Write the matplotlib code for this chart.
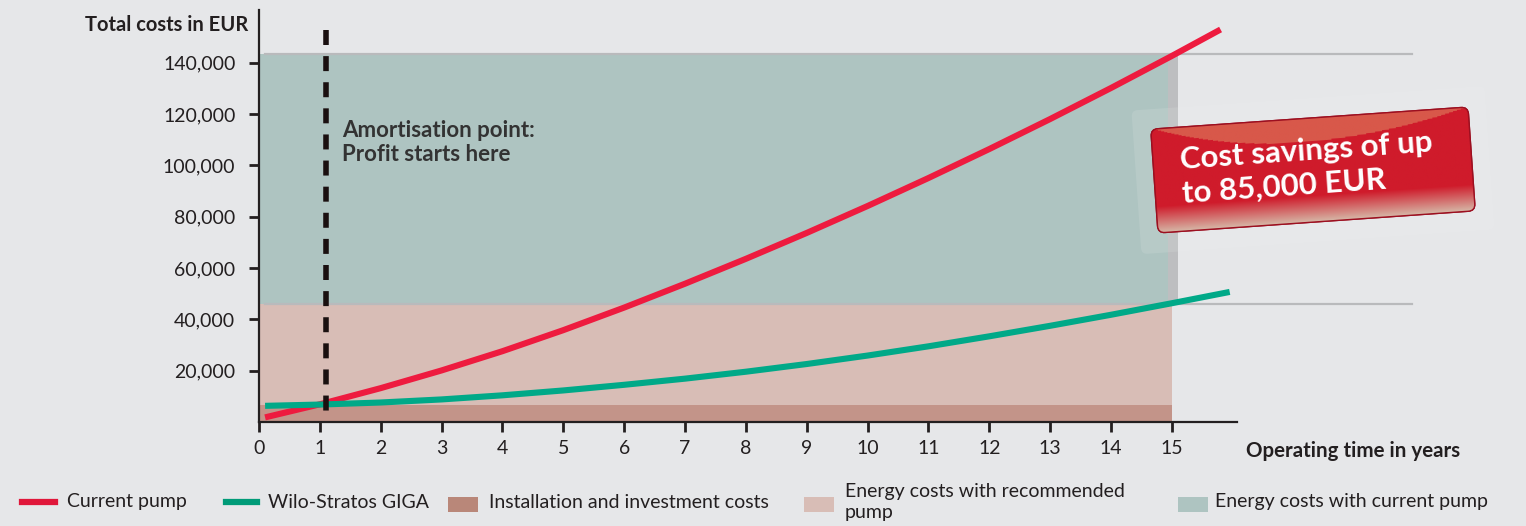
import numpy as np
import matplotlib
matplotlib.use('Agg')
import matplotlib.pyplot as plt
import matplotlib.transforms as mtransforms
from matplotlib.patches import FancyBboxPatch, Rectangle
from matplotlib.lines import Line2D

plt.rcParams['font.family'] = ['Lato', 'DejaVu Sans']

# data
years = [0.1, 1, 2, 3, 4, 5, 6, 7, 8, 9, 10, 11, 12, 13, 14, 15, 15.8]
current_pump = [1800, 6900, 13200, 20100, 27600, 35800, 44600, 53900, 63600,
                73700, 84200, 95100, 106400, 118100, 130200, 142700, 153000]
giga_years = [0.1, 1, 2, 3, 4, 5, 6, 7, 8, 9, 10, 11, 12, 13, 14, 15, 15.95]
wilo_giga = [6300, 6800, 7600, 8800, 10400, 12300, 14500, 16900, 19600,
             22600, 25900, 29500, 33400, 37500, 41800, 46300, 50700]

band_x = [0, 15]
invest_cost = 6500
energy_rec_top = 46000
energy_cur_top = 143500
amort_year = 1.1

x_ticks = list(range(0, 16))
y_ticks = [20000, 40000, 60000, 80000, 100000, 120000, 140000]

bg = '#e6e7e9'
dark = '#231f20'
red = '#ee1b3f'
green = '#00a988'
c_invest = '#c39489'
c_rec = '#d8bdb6'
c_cur = '#aec4c1'

fig = plt.figure(figsize=(15.26, 5.26), dpi=100, facecolor=bg)
W, H = 1526, 526
ax = fig.add_axes([259 / W, (H - 422) / H, 978 / W, 412 / H])
ax.set_facecolor(bg)
ax.set_xlim(0, 16.07)
ax.set_ylim(0, 160600)

# cost bands
ax.fill_between(band_x, energy_rec_top, energy_cur_top, color=c_cur, lw=0, zorder=1)
ax.fill_between(band_x, invest_cost, energy_rec_top, color=c_rec, lw=0, zorder=1)
ax.fill_between(band_x, 0, invest_cost, color=c_invest, lw=0, zorder=1)
ax.fill_between([14.93, 15.1], energy_rec_top, energy_cur_top, color='#bdbec0', lw=0, zorder=1.5)

# thin grey guide lines running out to the right
for yv in [energy_rec_top, energy_cur_top]:
    ax.plot([0.1, 18.94], [yv, yv], color='#b9babc', lw=1.6, clip_on=False, zorder=1.6)

ax.plot(years, current_pump, color=red, lw=4.4, solid_capstyle='butt',
        solid_joinstyle='round', zorder=3, clip_on=False)
ax.plot(giga_years, wilo_giga, color=green, lw=4.4, solid_capstyle='butt',
        solid_joinstyle='round', zorder=3, clip_on=False)

ax.plot([amort_year, amort_year], [152800, 1500], color='#1a1010', lw=4.0,
        linestyle=(0, (2.7, 2.0)), dash_capstyle='butt', zorder=4)
ax.text(1.36, 109000, 'Amortisation point:\nProfit starts here', fontsize=16,
        fontweight='bold', color='#333', va='center', ha='left', linespacing=1.22, zorder=5)

for s in ['top', 'right']:
    ax.spines[s].set_visible(False)
for s in ['left', 'bottom']:
    ax.spines[s].set_color(dark)
    ax.spines[s].set_linewidth(1.6)
    ax.spines[s].set_zorder(6)

ax.set_xticks(x_ticks)
ax.set_yticks(y_ticks)
ax.set_yticklabels(['{:,}'.format(v) for v in y_ticks])
ax.tick_params(axis='both', colors=dark, labelsize=14, width=2, length=7, direction='out')
ax.tick_params(axis='y', pad=10)
ax.tick_params(axis='x', pad=6)

fig.text(248 / W, (H - 25) / H, 'Total costs in EUR', fontsize=14.5, fontweight='bold',
         color=dark, ha='right', va='center')
fig.text(1246 / W, (H - 451) / H, 'Operating time in years', fontsize=14.8, fontweight='bold',
         color=dark, ha='left', va='center')

# legend, placed by hand
ly = (H - 502) / H
fig.add_artist(Line2D([22 / W, 55 / W], [ly, ly], color='#e0173a', lw=4.5))
fig.text(67 / W, ly, 'Current pump', fontsize=14, color=dark, va='center')
fig.add_artist(Line2D([226 / W, 257 / W], [ly, ly], color='#009b78', lw=4.5))
fig.text(268 / W, ly, 'Wilo-Stratos GIGA', fontsize=14, color=dark, va='center')
fig.add_artist(Rectangle((448 / W, (H - 512) / H), 30 / W, 15 / H, color='#b98779', lw=0))
fig.text(489 / W, ly, 'Installation and investment costs', fontsize=14, color=dark, va='center')
fig.add_artist(Rectangle((804 / W, (H - 512) / H), 30 / W, 15 / H, color=c_rec, lw=0))
fig.text(845 / W, ly, 'Energy costs with recommended\npump', fontsize=14, color=dark,
         va='center', linespacing=1.3)
fig.add_artist(Rectangle((1178 / W, (H - 512) / H), 30 / W, 15 / H, color=c_cur, lw=0))
fig.text(1215 / W, ly, 'Energy costs with current pump', fontsize=14, color=dark, va='center')

# red callout box
ov = fig.add_axes([0, 0, 1, 1])
ov.set_xlim(0, W)
ov.set_ylim(0, H)
ov.axis('off')
ov.patch.set_alpha(0)

cx, cy, bw, bh = 1313, H - 170, 318, 104
rot = mtransforms.Affine2D().rotate_deg_around(cx, cy, 4) + ov.transData

glow = FancyBboxPatch((cx - bw / 2 - 18, cy - bh / 2 - 20), bw + 36, bh + 40,
                      boxstyle='round,pad=0,rounding_size=6', fc='#eef0f1', ec='none',
                      alpha=0.14, transform=rot, zorder=1)
ov.add_patch(glow)
box = FancyBboxPatch((cx - bw / 2, cy - bh / 2), bw, bh,
                     boxstyle='round,pad=0,rounding_size=7', fc='#cf1b2b', ec='#9c0f20',
                     lw=1.0, transform=rot, zorder=2)
ov.add_patch(box)

gh, gw = 104, 318
img = np.zeros((gh, gw, 3))
base = np.array([207, 27, 43]) / 255
flap = np.array([216, 88, 74]) / 255
low = np.array([214, 182, 166]) / 255
uu = np.linspace(0, 1, gw)
depth = np.where(uu < 0.45, 24 * (1 - ((0.45 - uu) / 0.45) ** 2), 24 * (1 - ((uu - 0.45) / 0.55) ** 2))
for r in range(gh):
    t = np.clip((26 - r) / 26, 0, 1)
    row = base * (1 - t) + low * t
    in_flap = r > (gh - depth)
    img[r] = np.where(in_flap[:, None], flap[None, :], row[None, :])
im = ov.imshow(img, origin='lower', extent=(cx - bw / 2, cx + bw / 2, cy - bh / 2, cy + bh / 2),
               transform=rot, zorder=2.5, interpolation='bilinear', aspect='auto')
im.set_clip_path(box)
edge = FancyBboxPatch((cx - bw / 2, cy - bh / 2), bw, bh,
                      boxstyle='round,pad=0,rounding_size=7', fc='none', ec='#9c0f20',
                      lw=1.0, transform=rot, zorder=3)
ov.add_patch(edge)
ov.set_xlim(0, W)
ov.set_ylim(0, H)

ov.text(1181, H - 177, 'Cost savings of up\nto 85,000 EUR', rotation=4, rotation_mode='anchor',
        ha='left', va='center', color='white', fontweight='bold', fontsize=22.5,
        linespacing=1.25, zorder=4)

fig.savefig('out.png', dpi=100, facecolor=bg)
